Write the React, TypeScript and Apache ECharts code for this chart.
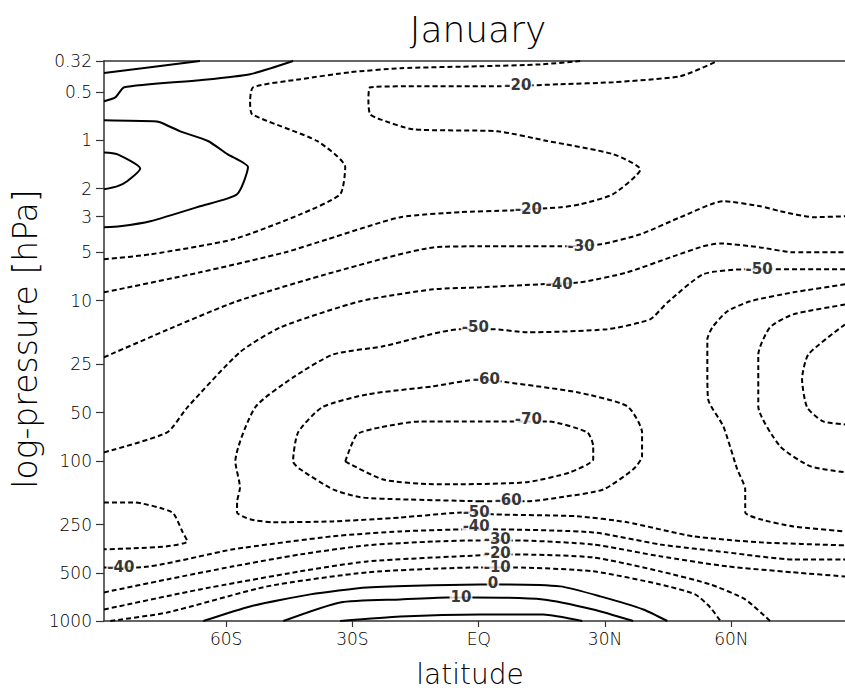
import React, { useEffect, useRef } from 'react';
import * as echarts from 'echarts';

// ---- axes ----
const LAT_MIN = -89;
const LAT_MAX = 87;
const P_TOP = 0.32;
const P_BOTTOM = 1000;
const X_TICKS = [-60, -30, 0, 30, 60];
const X_TICK_LABELS = ['60S', '30S', 'EQ', '30N', '60N'];
const Y_TICKS = [0.32, 0.5, 1, 2, 3, 5, 10, 25, 50, 100, 250, 500, 1000];
const Y_TICK_LABELS = ['0.32', '0.5', '1', '2', '3', '5', '10', '25', '50', '100', '250', '500', '1000'];

// ---- contour lines: [latitude, pressure hPa] ----
// solid (>= 0) contours, upper-left stratopause region
const upperA = [[-89, 0.38], [-78, 0.35], [-66.2, 0.32]];
const upperB = [[-89, 0.57], [-86.3, 0.54], [-84.2, 0.467], [-66.2, 0.422], [-54.3, 0.387], [-44.1, 0.32]];
const upperC = [[-89, 0.75], [-77.3, 0.76], [-75.7, 0.772], [-70.9, 0.879], [-64.3, 1.01], [-59.7, 1.22], [-54.8, 1.47], [-57.4, 2.17], [-66.2, 2.58], [-78, 3.2], [-85.2, 3.44], [-89, 3.49]];
const upperD = [[-89, 1.19], [-85.9, 1.22], [-80.4, 1.5], [-83.5, 1.8], [-85.9, 1.94], [-89, 2.02]];

// negative (dashed) contours
const m10Upper = [[-89, 5.53], [-78, 5.15], [-58.3, 4.15], [-42.4, 2.9], [-32.9, 2.17], [-31.7, 1.47], [-38.4, 1.01], [-53.8, 0.688], [-54.3, 0.571], [-53.6, 0.467], [-42.4, 0.416], [-30.5, 0.376], [-18.6, 0.355], [0.4, 0.345], [14.6, 0.336], [24.1, 0.32]];
const m20Upper = [[-89, 8.89], [-66.2, 6.67], [-45.9, 5.0], [-36, 4.15], [-18.6, 3.02], [-4.4, 2.81], [7.5, 2.74], [19.4, 2.62], [24.1, 2.51], [31.9, 2.17], [38.4, 1.52], [31.9, 1.22], [16.3, 1.01], [4.4, 0.879], [-15.6, 0.854], [-23.4, 0.74], [-25.8, 0.688], [-26.2, 0.571], [-25.8, 0.467], [-13.9, 0.46], [5.1, 0.46], [19.4, 0.447], [31.9, 0.434], [47.9, 0.398], [56.7, 0.32]];
const m30Upper = [[-89, 22.6], [-72.6, 14.7], [-57.4, 10.1], [-34.6, 6.67], [-10.8, 4.66], [0.4, 4.59], [19.4, 4.59], [28.9, 4.46], [38.4, 3.86], [47.9, 3.02], [58.1, 2.4], [66.9, 2.58], [71.6, 2.77], [79.5, 3.02], [87, 2.98]];
const m40Upper = [[-89, 88.6], [-74, 66.5], [-69.2, 46.4], [-56.7, 21.0], [-47.1, 14.7], [-28.1, 10.1], [-10.8, 8.51], [0.4, 8.27], [14.6, 7.92], [24.1, 7.7], [35.3, 6.67], [46.2, 5.3], [53.3, 4.59], [57.4, 4.4], [66.9, 4.66], [74.7, 5.0], [87, 5.0]];
const m50Main = [[87, 6.39], [62.9, 6.39], [53.3, 6.86], [44.8, 10.3], [40.7, 13.1], [30.5, 15.1], [11.5, 15.8], [3.4, 15.1], [-4.4, 15.1], [-22.7, 19.3], [-34.6, 21.7], [-44.1, 30.2], [-53.1, 46.4], [-57.8, 100.9], [-56.7, 147], [-57.4, 182], [-57.4, 210], [-54.3, 232], [-48.8, 242], [-34.6, 239], [-18.6, 226], [-2.7, 210], [3.4, 216], [23.4, 222], [35.3, 242], [50.9, 296], [66.9, 323], [87, 337]];
const m50Left = [[-89, 182], [-82.1, 182], [-72.8, 210], [-70.4, 276], [-69.2, 319], [-74, 342], [-82.1, 352], [-89, 357]];
const m60Center = [[0.4, 179], [-18.6, 174], [-28.1, 169], [-34.6, 151], [-42.4, 113], [-44.1, 101], [-42.9, 66.5], [-37.2, 46.4], [-26.5, 38.5], [-10.8, 34.3], [0.4, 31.0], [6.8, 32.4], [23.4, 37.4], [35.3, 45.7], [38.8, 66.5], [38.8, 93.9], [36.7, 113], [29.6, 151], [19.4, 169], [11.5, 179], [0.4, 179]];
const m70Center = [[-31.7, 101], [-28.9, 68.4], [-23.4, 61.9], [-13.9, 56.8], [0.4, 56.8], [16.3, 56.8], [25.8, 66.5], [27.2, 81.3], [27.2, 98], [21.7, 118], [11.5, 136], [-4.4, 140], [-10.8, 140], [-22.7, 131], [-31.7, 101]];
const m60North = [[87, 7.92], [74.7, 8.89], [64.5, 10.1], [59, 11.7], [55.5, 14.7], [54.3, 17.5], [54.3, 28.1], [54.5, 41.4], [58.1, 61], [61.4, 113], [63.3, 151], [63.3, 210], [66.9, 232], [74.7, 257], [87, 276]];
const m70North = [[87, 10.6], [74.7, 12.2], [69.2, 14.7], [66.4, 21.7], [66.4, 45.7], [71.6, 81.3], [78.7, 108], [87, 118]];
const m80North = [[87, 14.1], [78.3, 21.7], [76.8, 31.0], [78, 46.4], [81.8, 56.8], [87, 59.3]];
const m40Lower = [[-89, 463], [-81.1, 463], [-58.3, 357], [-34.6, 296], [-18.6, 276], [-2.7, 268], [3.4, 268], [27.2, 280], [43.1, 333], [59, 373], [74.7, 413], [87, 413]];
const m30Lower = [[-89, 663], [-74, 550], [-58.3, 456], [-42.4, 384], [-26.5, 337], [-10.8, 319], [0.4, 314], [8.2, 314], [27.2, 333], [43.1, 395], [59, 456], [74.7, 497], [87, 527]];
const m20Lower = [[-89, 847], [-66.2, 635], [-42.4, 490], [-26.5, 425], [0.4, 389], [8.2, 384], [27.2, 401], [43.1, 490], [55, 591], [63.3, 733], [69.2, 1000]];
const m10Lower = [[-87.5, 1000], [-74, 885], [-50.2, 608], [-26.5, 497], [0.4, 463], [8.2, 463], [27.2, 490], [43.1, 591], [51.4, 682], [55, 823], [57.4, 1000]];
// positive (solid) near-surface contours
const p0Lower = [[-65.4, 1000], [-54.3, 811], [-40, 682], [-26.5, 617], [0.4, 591], [5.8, 591], [19.4, 608], [28.9, 702], [39.1, 847], [44.8, 1000]];
const p10Lower = [[-46.4, 1000], [-32.9, 766], [-18.6, 733], [-7.5, 713], [-1.3, 713], [15.3, 733], [27.2, 847], [36.7, 1000]];
const p20Lower = [[-32.9, 1000], [-18.6, 937], [0.4, 910], [15.3, 910], [24.6, 1000]];

const CONTOURS = [
  { level: 10, pts: upperA },
  { level: 10, pts: upperB },
  { level: 10, pts: upperC },
  { level: 10, pts: upperD },
  { level: -10, pts: m10Upper },
  { level: -20, pts: m20Upper },
  { level: -30, pts: m30Upper },
  { level: -40, pts: m40Upper },
  { level: -50, pts: m50Main },
  { level: -50, pts: m50Left },
  { level: -60, pts: m60Center },
  { level: -70, pts: m70Center },
  { level: -60, pts: m60North },
  { level: -70, pts: m70North },
  { level: -80, pts: m80North },
  { level: -40, pts: m40Lower },
  { level: -30, pts: m30Lower },
  { level: -20, pts: m20Lower },
  { level: -10, pts: m10Lower },
  { level: 0, pts: p0Lower },
  { level: 10, pts: p10Lower },
  { level: 20, pts: p20Lower },
];

// contour labels: [latitude, pressure hPa, text]
const CONTOUR_LABELS: [number, number, string][] = [
  [9.3, 0.454, '-20'],
  [11.8, 2.7, '-20'],
  [24.3, 4.59, '-30'],
  [19.1, 7.92, '-40'],
  [66.6, 6.39, '-50'],
  [-0.8, 14.7, '-50'],
  [1.8, 31.0, '-60'],
  [11.8, 55.2, '-70'],
  [7.0, 177, '-60'],
  [-0.6, 208, '-50'],
  [-0.6, 257, '-40'],
  [4.4, 310, '-30'],
  [4.4, 375, '-20'],
  [4.4, 458, '-10'],
  [3.4, 582, '0'],
  [-4.2, 713, '10'],
  [-85.0, 463, '-40'],
];

const FONT = "'DejaVu Sans', sans-serif";
const lg = (p: number) => Math.log10(p);

export default function App() {
  const ref = useRef<HTMLDivElement>(null);
  useEffect(() => {
    if (!ref.current) return;
    const chart = echarts.init(ref.current, undefined, { renderer: 'svg' });
    const lineSeries = CONTOURS.map((c) => ({
      type: 'line',
      data: c.pts.map(([lat, p]) => [lat, lg(p)]),
      showSymbol: false,
      symbol: 'none',
      smooth: 0.2,
      silent: true,
      z: 2,
      lineStyle: {
        color: '#000',
        width: 2,
        type: c.level < 0 ? [5, 3] : 'solid',
      },
    }));
    const labelSeries = {
      type: 'scatter',
      data: CONTOUR_LABELS.map(([lat, p, t]) => [lat, lg(p), t]),
      symbolSize: 0,
      silent: true,
      z: 10,
      label: {
        show: true,
        position: 'inside',
        formatter: (d: any) => d.data[2],
        fontFamily: FONT,
        fontWeight: 'bold',
        fontSize: 15,
        color: '#000',
        backgroundColor: '#fff',
        padding: [0, 1],
        lineHeight: 12,
      },
    };
    const axisLineStyle = { color: '#333', width: 1.5 };
    chart.setOption({
      animation: false,
      backgroundColor: '#fff',
      grid: { left: 104, right: 0, top: 61, bottom: 70, containLabel: false, outerBoundsMode: 'none' },
      xAxis: [
        {
          type: 'value',
          min: LAT_MIN,
          max: LAT_MAX,
          position: 'bottom',
          axisLine: { show: true, onZero: false, lineStyle: axisLineStyle },
          axisTick: { show: true, customValues: X_TICKS, length: 6, lineStyle: { color: '#333', width: 1.2 } },
          axisLabel: {
            customValues: X_TICKS,
            formatter: (v: number) => {
              const i = X_TICKS.findIndex((t) => Math.abs(t - v) < 1e-6);
              return i >= 0 ? X_TICK_LABELS[i] : '';
            },
            fontFamily: FONT,
            fontWeight: 300,
            fontSize: 17,
            color: '#000',
            margin: 9,
          },
          splitLine: { show: false },
        },
        {
          type: 'value',
          min: LAT_MIN,
          max: LAT_MAX,
          position: 'top',
          axisLine: { show: true, onZero: false, lineStyle: axisLineStyle },
          axisTick: { show: false },
          axisLabel: { show: false },
          splitLine: { show: false },
        },
      ],
      yAxis: {
        type: 'value',
        min: lg(P_TOP),
        max: lg(P_BOTTOM),
        inverse: true,
        axisLine: { show: true, onZero: false, lineStyle: axisLineStyle },
        axisTick: { show: true, customValues: Y_TICKS.map(lg), length: 8, lineStyle: { color: '#333', width: 1.2 } },
        axisLabel: {
          customValues: Y_TICKS.map(lg),
          formatter: (v: number) => {
            const i = Y_TICKS.findIndex((t) => Math.abs(lg(t) - v) < 1e-6);
            return i >= 0 ? Y_TICK_LABELS[i] : '';
          },
          fontFamily: FONT,
          fontWeight: 300,
          fontSize: 17,
          color: '#000',
          margin: 12,
        },
        splitLine: { show: false },
      },
      graphic: [
        {
          type: 'text',
          x: 478,
          y: 29,
          style: { text: 'January', font: `300 36px ${FONT}`, fill: '#000', align: 'center', verticalAlign: 'middle' },
        },
        {
          type: 'text',
          x: 470,
          y: 674,
          style: { text: 'latitude', font: `300 28px ${FONT}`, fill: '#000', align: 'center', verticalAlign: 'middle' },
        },
        {
          type: 'text',
          x: 25,
          y: 339,
          rotation: Math.PI / 2,
          style: { text: 'log-pressure [hPa]', font: `300 33px ${FONT}`, fill: '#000', align: 'center', verticalAlign: 'middle' },
        },
      ],
      series: [...lineSeries, labelSeries],
    });
    return () => chart.dispose();
  }, []);
  return <div ref={ref} style={{ position: 'absolute', left: 0, top: 0, width: 845, height: 691 }} />;
}
